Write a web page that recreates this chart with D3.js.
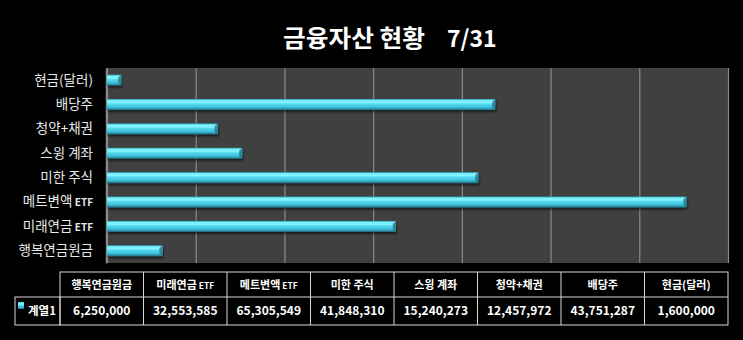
<!DOCTYPE html>
<html>
<head>
<meta charset="utf-8">
<script src="https://cdn.jsdelivr.net/npm/d3@7"></script>
<style>
  html, body { margin: 0; padding: 0; background: #000; }
  svg { display: block; }
  text { font-family: "Noto Sans CJK KR", "Noto Sans", sans-serif; }
</style>
</head>
<body>
<script>
// Asset categories, in table order (bottom bar first)
const categories = ["행복연금원금", "미래연금 ETF", "메트변액 ETF", "미한 주식", "스윙 계좌", "청약+채권", "배당주", "현금(달러)"];
const values = [6250000, 32553585, 65305549, 41848310, 15240273, 12457972, 43751287, 1600000];
const seriesName = "계열1";
const titleText = "금융자산 현황";
const dateText = "7/31";
const xTicks = [0, 10000000, 20000000, 30000000, 40000000, 50000000, 60000000, 70000000];

const W = 743, H = 340;
const plot = { left: 107, right: 728, top: 68, bottom: 263 };

const svg = d3.select("body").append("svg").attr("width", W).attr("height", H);
svg.append("rect").attr("width", W).attr("height", H).attr("fill", "#000");

const defs = svg.append("defs");
const grad = defs.append("linearGradient").attr("id", "barGrad")
  .attr("x1", 0).attr("y1", 0).attr("x2", 0).attr("y2", 1);
[["0%", "#2ea8be"], ["12%", "#74ecfb"], ["30%", "#86f4ff"], ["45%", "#55d9f0"],
 ["75%", "#3cbfd8"], ["88%", "#2c93a8"], ["100%", "#1d6b7b"]]
  .forEach(([o, c]) => grad.append("stop").attr("offset", o).attr("stop-color", c));
const shadow = defs.append("filter").attr("id", "barShadow")
  .attr("x", "-5%").attr("y", "-30%").attr("width", "115%").attr("height", "190%");
shadow.append("feDropShadow").attr("dx", 1).attr("dy", 2).attr("stdDeviation", 1)
  .attr("flood-color", "#000").attr("flood-opacity", 0.6);

// Title
svg.append("text").attr("x", 283).attr("y", 47)
  .attr("fill", "#fff").attr("font-weight", "bold").attr("font-size", 24)
  .attr("textLength", 142).attr("lengthAdjust", "spacingAndGlyphs")
  .text(titleText);
svg.append("text").attr("x", 447).attr("y", 47)
  .attr("fill", "#fff").attr("font-weight", "bold").attr("font-size", 23)
  .text(dateText);

// Scales
const x = d3.scaleLinear().domain([0, 70000000]).range([plot.left, plot.right]);
const y = d3.scaleBand().domain(categories.slice().reverse())
  .range([plot.top, plot.bottom]).paddingInner(0.55).paddingOuter(0.275);

// Plot area
svg.append("rect").attr("x", plot.left).attr("y", plot.top)
  .attr("width", plot.right - plot.left).attr("height", plot.bottom - plot.top)
  .attr("fill", "#404040");

// Vertical gridlines
const grid = svg.append("g").attr("transform", `translate(0,${plot.bottom})`)
  .call(d3.axisBottom(x).tickValues(xTicks).tickSize(-(plot.bottom - plot.top)).tickFormat(""));
grid.select(".domain").remove();
grid.selectAll(".tick line").attr("stroke", "#8a8a8a").attr("stroke-width", 1.2);

// Category axis
const yAxis = svg.append("g").attr("transform", `translate(${plot.left - 1},0)`)
  .call(d3.axisLeft(y).tickSize(0).tickPadding(13));
yAxis.select(".domain").attr("stroke", "#8a8a8a").attr("stroke-width", 1.5);
yAxis.selectAll(".tick text").each(function (d) {
  const t = d3.select(this);
  t.text(null).attr("fill", "#e8e8e8").attr("font-size", 13.5).attr("font-family", "\"Noto Sans CJK KR\", sans-serif");
  const m = d.match(/^(.*?)( ETF)$/);
  if (m) {
    t.append("tspan").text(m[1]);
    t.append("tspan").attr("font-size", 10).attr("font-weight", "bold").text(m[2]);
  } else {
    t.append("tspan").text(d);
  }
});

// Bars
svg.append("g").selectAll("rect").data(categories).join("rect")
  .attr("x", x(0))
  .attr("y", d => y(d))
  .attr("width", (d, i) => x(values[i]) - x(0))
  .attr("height", y.bandwidth())
  .attr("fill", "url(#barGrad)")
  .attr("filter", "url(#barShadow)");

// Bevel at each bar end
svg.append("g").selectAll("path").data(categories).join("path")
  .attr("d", (d, i) => {
    const xe = x(values[i]), y0 = y(d), h = y.bandwidth();
    return `M${xe - 3},${y0 + 3} L${xe},${y0} L${xe},${y0 + h} L${xe - 3},${y0 + h - 3} Z`;
  })
  .attr("fill", "#1f7687").attr("opacity", 0.8);

// Data table
const tbl = { left: 60, right: 728, top: 272, mid: 297, bottom: 325, keyLeft: 15 };
const col = d3.scaleBand().domain(categories).range([tbl.left, tbl.right]);
const fmt = d3.format(",");
const tg = svg.append("g");
const lineColor = "#d8d8d8";

// Borders
tg.append("rect").attr("x", tbl.left).attr("y", tbl.top)
  .attr("width", tbl.right - tbl.left).attr("height", tbl.bottom - tbl.top)
  .attr("fill", "none").attr("stroke", lineColor);
tg.append("rect").attr("x", tbl.keyLeft).attr("y", tbl.mid)
  .attr("width", tbl.left - tbl.keyLeft).attr("height", tbl.bottom - tbl.mid)
  .attr("fill", "none").attr("stroke", lineColor);
tg.append("line").attr("x1", tbl.left).attr("x2", tbl.right)
  .attr("y1", tbl.mid).attr("y2", tbl.mid).attr("stroke", lineColor);
tg.selectAll("line.col").data(categories.slice(1)).join("line").attr("class", "col")
  .attr("x1", d => col(d)).attr("x2", d => col(d))
  .attr("y1", tbl.top).attr("y2", tbl.bottom).attr("stroke", lineColor);

// Header labels
tg.selectAll("text.head").data(categories).join("text").attr("class", "head")
  .attr("x", d => col(d) + col.bandwidth() / 2).attr("y", (tbl.top + tbl.mid) / 2 + 4)
  .attr("text-anchor", "middle").attr("fill", "#fff")
  .attr("font-size", 11).attr("font-weight", "bold")
  .each(function (d) {
    const t = d3.select(this);
    const m = d.match(/^(.*?)( ETF)$/);
    if (m) {
      t.append("tspan").text(m[1]);
      t.append("tspan").attr("font-size", 8.5).text(m[2]);
    } else {
      t.text(d);
    }
  });

// Values
tg.selectAll("text.val").data(categories).join("text").attr("class", "val")
  .attr("x", d => col(d) + col.bandwidth() / 2).attr("y", (tbl.mid + tbl.bottom) / 2 + 4)
  .attr("text-anchor", "middle").attr("fill", "#fff")
  .attr("font-size", 12).attr("font-weight", "bold")
  .text((d, i) => fmt(values[i]));

// Legend key and series name
tg.append("rect").attr("x", 18).attr("y", 302).attr("width", 6).attr("height", 7)
  .attr("fill", "url(#barGrad)");
tg.append("text").attr("x", 28).attr("y", (tbl.mid + tbl.bottom) / 2 + 4)
  .attr("fill", "#fff").attr("font-size", 11.5).attr("font-weight", "bold")
  .text(seriesName);
</script>
</body>
</html>
